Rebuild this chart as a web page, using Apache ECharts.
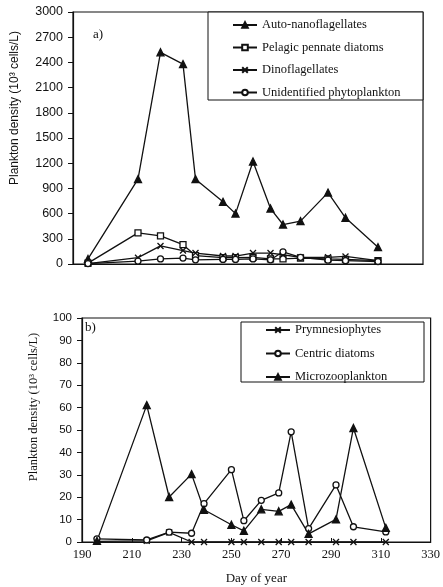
<!DOCTYPE html>
<html>
<head>
<meta charset="utf-8">
<script src="https://cdn.jsdelivr.net/npm/echarts@6/dist/echarts.min.js"></script>
<style>
  html, body { margin: 0; padding: 0; background: #fff; }
  #chart { width: 443px; height: 587px; }
</style>
</head>
<body>
<div id="chart"></div>
<script>
// Sampling days (day of year)
const days = [196, 216, 225, 234, 239, 250, 255, 262, 269, 274, 281, 292, 299, 312];

// Panel a) densities, 10^3 cells/L
const autoNano   = [60, 1010, 2520, 2380, 1010, 740, 600, 1220, 660, 470, 510, 850, 550, 200];
const pennate    = [10, 370, 335, 230, 100, 75, 75, 80, 60, 60, 70, 60, 55, 40];
const dino       = [5, 75, 215, 160, 130, 95, 95, 130, 130, 110, 80, 80, 90, 40];
const unident    = [5, 35, 60, 70, 50, 55, 55, 60, 50, 145, 80, 45, 40, 30];

// Panel b) densities, 10^3 cells/L
const prymnesio  = [0.3, 0.5, 4.3, 0, 0, 0, 0, 0, 0, 0, 0, 0, 0, 0];
const centric    = [1.4, 0.9, 4.4, 3.9, 17.1, 32.3, 9.5, 18.6, 21.9, 49.2, 6, 25.5, 6.8, 4.5];
const microzoo   = [0.5, 61.1, 20.1, 30.3, 14.4, 7.7, 5, 14.6, 13.7, 16.7, 3.6, 10.1, 50.9, 6.3];

const xTicks = [190, 330, 20];   // min, max, step
const yTicksA = [0, 3000, 300];
const yTicksB = [0, 100, 10];

const yName = 'Plankton density (10³ cells/L)';

const serif = '"Liberation Serif", "Times New Roman", serif';
const sans = '"Liberation Sans", Arial, sans-serif';
const ink = '#111';

const crossPath = 'path://M0,0L10,10M0,10L10,0';

function pairs(vals) { return days.map((d, i) => [d, vals[i]]); }

function lineSeries(name, vals, idx, symbol, fill, size) {
  return {
    name: name,
    type: 'line',
    xAxisIndex: idx,
    yAxisIndex: idx,
    data: pairs(vals),
    symbol: symbol,
    symbolSize: size,
    showSymbol: true,
    lineStyle: { color: ink, width: 1.3 },
    itemStyle: { color: fill, borderColor: ink, borderWidth: 1.3 },
    emphasis: { disabled: true },
    animation: false
  };
}

const chart = echarts.init(document.getElementById('chart'), null, { renderer: 'canvas' });

const yAxisCommon = {
  type: 'value',
  axisLine: { show: true, lineStyle: { color: ink, width: 1.2 } },
  axisTick: { show: true, inside: false, length: 5, lineStyle: { color: ink, width: 1 } },
  splitLine: { show: false },
};

chart.setOption({
  animation: false,
  backgroundColor: '#fff',
  title: [
    { text: 'a)', left: 88, top: 23, textStyle: { fontFamily: serif, fontSize: 13, fontWeight: 'normal', color: ink } },
    { text: 'b)', left: 80, top: 316, textStyle: { fontFamily: serif, fontSize: 13, fontWeight: 'normal', color: ink } }
  ],
  grid: [
    { left: 73, top: 12, width: 350, height: 252, show: true, borderColor: ink, borderWidth: 1.2, backgroundColor: 'transparent' },
    { left: 82, top: 318, width: 349, height: 224, show: true, borderColor: ink, borderWidth: 1.2, backgroundColor: 'transparent' }
  ],
  xAxis: [
    {
      gridIndex: 0, type: 'value', min: xTicks[0], max: xTicks[1], interval: xTicks[2],
      axisLine: { show: true, lineStyle: { color: ink, width: 1.2 } },
      axisTick: { show: false }, axisLabel: { show: false }, splitLine: { show: false }
    },
    {
      gridIndex: 1, type: 'value', min: xTicks[0], max: xTicks[1], interval: xTicks[2],
      name: 'Day of year', nameLocation: 'middle', nameGap: 30,
      nameTextStyle: { fontFamily: serif, fontSize: 13, color: ink },
      axisLine: { show: true, lineStyle: { color: ink, width: 1.2 } },
      axisTick: { show: true, inside: true, length: 4, lineStyle: { color: ink } },
      axisLabel: { fontFamily: serif, fontSize: 12.5, color: ink, margin: 6 },
      splitLine: { show: false }
    }
  ],
  yAxis: [
    Object.assign({}, yAxisCommon, {
      gridIndex: 0, min: yTicksA[0], max: yTicksA[1], interval: yTicksA[2],
      axisLabel: { fontFamily: sans, fontSize: 12.5, color: ink, margin: 10, formatter: v => String(v) }
    }),
    Object.assign({}, yAxisCommon, {
      gridIndex: 1, min: yTicksB[0], max: yTicksB[1], interval: yTicksB[2],
      axisLabel: { fontFamily: sans, fontSize: 11.5, color: ink, margin: 10, formatter: v => String(v) }
    })
  ],
  graphic: [
    { type: 'rect', shape: { x: 208, y: 12, width: 215, height: 88 }, style: { fill: '#fff', stroke: ink, lineWidth: 1 }, z: 5 },
    { type: 'rect', shape: { x: 241, y: 322, width: 183, height: 60 }, style: { fill: '#fff', stroke: ink, lineWidth: 1 }, z: 5 },
    { type: 'text', x: 15, y: 108, rotation: Math.PI / 2,
      style: { text: yName, font: '12px ' + sans, fill: ink, align: 'center', verticalAlign: 'middle' }, z: 5 },
    { type: 'text', x: 34, y: 407, rotation: Math.PI / 2,
      style: { text: yName, font: '12.5px ' + serif, fill: ink, align: 'center', verticalAlign: 'middle' }, z: 5 }
  ],
  legend: [
    {
      data: ['Auto-nanoflagellates', 'Pelagic pennate diatoms', 'Dinoflagellates', 'Unidentified phytoplankton'],
      orient: 'vertical', left: 232, top: 18, itemWidth: 24, itemHeight: 7, itemGap: 8.5, padding: 0,
      textStyle: { fontFamily: serif, fontSize: 12.5, color: ink, lineHeight: 14 }, z: 10
    },
    {
      data: ['Prymnesiophytes', 'Centric diatoms', 'Microzooplankton'],
      orient: 'vertical', left: 265, top: 323, itemWidth: 24, itemHeight: 7, itemGap: 9.5, padding: 0,
      textStyle: { fontFamily: serif, fontSize: 12.5, color: ink, lineHeight: 14 }, z: 10
    }
  ],
  series: [
    lineSeries('Auto-nanoflagellates', autoNano, 0, 'triangle', ink, 7),
    lineSeries('Pelagic pennate diatoms', pennate, 0, 'rect', '#fff', 6),
    lineSeries('Dinoflagellates', dino, 0, crossPath, ink, 6),
    lineSeries('Unidentified phytoplankton', unident, 0, 'circle', '#fff', 6),
    lineSeries('Prymnesiophytes', prymnesio, 1, crossPath, ink, 6),
    lineSeries('Centric diatoms', centric, 1, 'circle', '#fff', 6),
    lineSeries('Microzooplankton', microzoo, 1, 'triangle', ink, 7)
  ]
});
</script>
</body>
</html>
